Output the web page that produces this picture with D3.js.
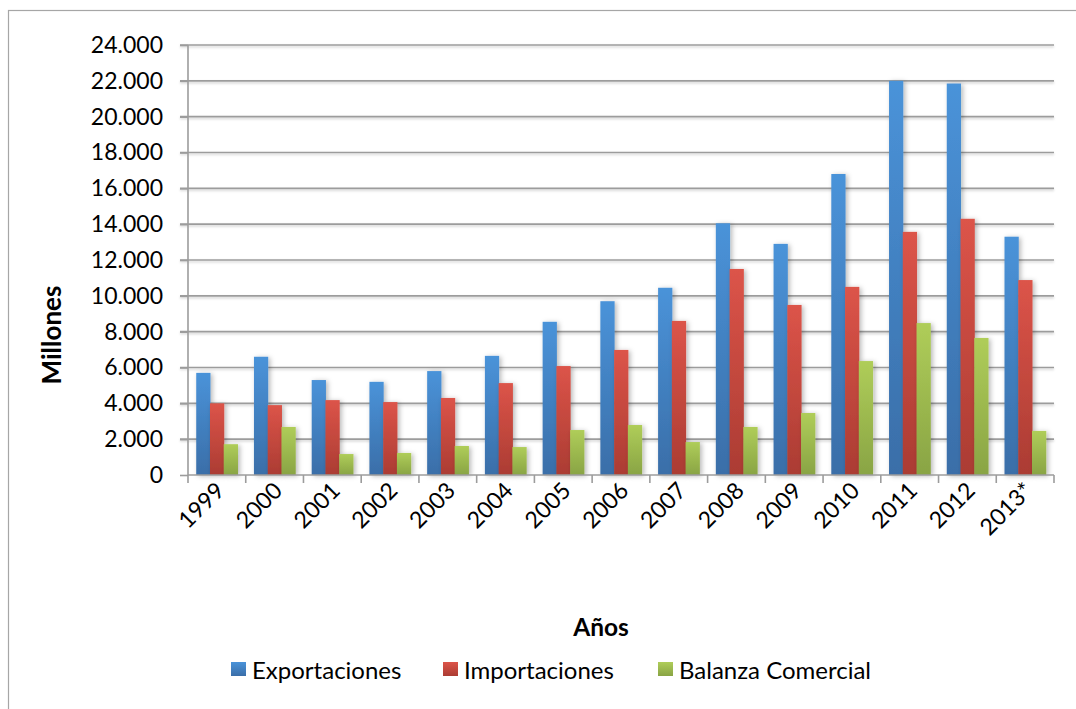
<!DOCTYPE html>
<html><head><meta charset="utf-8">
<script src="https://cdn.jsdelivr.net/npm/d3@7"></script>
<style>body{margin:0;background:#fff;} text{font-family:Lato,"Open Sans",sans-serif;}</style>
</head><body>
<svg id="c" width="1076" height="709"></svg>
<script>
const years = ["1999","2000","2001","2002","2003","2004","2005","2006","2007","2008","2009","2010","2011","2012","2013*"];
const exportaciones = [5700,6600,5300,5200,5800,6650,8550,9700,10450,14050,12900,16800,22000,21850,13300];
const importaciones = [4000,3900,4180,4070,4300,5130,6080,6980,8600,11500,9490,10500,13570,14300,10880];
const balanza = [1720,2680,1170,1230,1620,1560,2510,2790,1840,2680,3460,6360,8480,7650,2460];
const seriesNames = ["Exportaciones","Importaciones","Balanza Comercial"];
const yTicks = [0,2000,4000,6000,8000,10000,12000,14000,16000,18000,20000,22000,24000];

const colors = [["#4a93d9","#3a6ea8"],["#dc5449","#ab3c33"],["#afcd59","#89a444"]];

const svg = d3.select("#c");
const defs = svg.append("defs");
colors.forEach((c,i)=>{
  const g = defs.append("linearGradient").attr("id","g"+i).attr("x1",0).attr("y1",0).attr("x2",0).attr("y2",1);
  g.append("stop").attr("offset","0%").attr("stop-color",c[0]);
  g.append("stop").attr("offset","100%").attr("stop-color",c[1]);
});
const f = defs.append("filter").attr("id","sh").attr("x","-50%").attr("y","-10%").attr("width","200%").attr("height","130%");
f.append("feDropShadow").attr("dx",2).attr("dy",1).attr("stdDeviation",2.5).attr("flood-color","#000").attr("flood-opacity",0.28);
const fg = defs.append("filter").attr("id","gsh").attr("x","-5%").attr("y","-200%").attr("width","110%").attr("height","500%");
fg.append("feDropShadow").attr("dx",0).attr("dy",1.5).attr("stdDeviation",1).attr("flood-color","#000").attr("flood-opacity",0.2);

// frame
svg.append("rect").attr("x",8.5).attr("y",10.5).attr("width",1100).attr("height",720)
  .attr("fill","none").attr("stroke","#a6a6a6").attr("stroke-width",1.2);

const L=188, R=1054, T=45, B=475;
const x = d3.scaleBand().domain(years).range([L,R]).paddingInner(0).paddingOuter(0);
const y = d3.scaleLinear().domain([0,24000]).range([B,T]);
const groupFrac = 0.715;
const xs = d3.scaleBand().domain([0,1,2]).range([0, x.bandwidth()*groupFrac]);
const off = (x.bandwidth()*(1-groupFrac))/2;

// gridlines
const grid = svg.append("g").attr("filter","url(#gsh)");
grid.selectAll("line").data(yTicks.filter(d=>d>0)).enter().append("line")
  .attr("x1",L-8).attr("x2",R).attr("y1",d=>y(d)).attr("y2",d=>y(d))
  .attr("stroke","#9c9c9c").attr("stroke-width",1.6);

// y axis
const ya = svg.append("g").attr("transform",`translate(${L},0)`)
  .call(d3.axisLeft(y).tickValues(yTicks).tickSize(8).tickPadding(17)
    .tickFormat(d=>d===0?"0":d3.format(",")(d).replace(/,/g,".")));
ya.select(".domain").attr("stroke","#9c9c9c").attr("stroke-width",1.6).attr("d",`M0,${T}V${B}`);
ya.selectAll(".tick line").attr("stroke","#9c9c9c").attr("stroke-width",1.6);
ya.selectAll(".tick text").attr("font-size",23).attr("fill","#000").attr("font-family","Lato,'Open Sans',sans-serif");

// bars
const data = [exportaciones, importaciones, balanza];
data.forEach((arr,si)=>{
  svg.append("g").attr("filter","url(#sh)").selectAll("rect").data(arr).enter().append("rect")
    .attr("x",(d,i)=>x(years[i])+off+xs(si))
    .attr("width",xs.bandwidth()+0.5)
    .attr("y",d=>y(d)).attr("height",d=>B-y(d))
    .attr("fill",`url(#g${si})`);
});

// x axis
const xa = svg.append("g").attr("transform",`translate(0,${B})`);
xa.append("line").attr("x1",L).attr("x2",R).attr("stroke","#9c9c9c").attr("stroke-width",1.6);
const bounds = years.map(d=>x(d)).concat([R]);
xa.selectAll("line.t").data(bounds).enter().append("line").attr("class","t")
  .attr("x1",d=>d).attr("x2",d=>d).attr("y1",0).attr("y2",8).attr("stroke","#9c9c9c").attr("stroke-width",1.6);
xa.selectAll("text").data(years).enter().append("text")
  .attr("transform",d=>`translate(${x(d)+x.bandwidth()/2+9},${17}) rotate(-45)`)
  .attr("text-anchor","end").attr("font-size",23).attr("fill","#000").text(d=>d);

// axis titles
svg.append("text").attr("transform","translate(61,335) rotate(-90)").attr("text-anchor","middle")
  .attr("font-size",26).attr("font-weight","bold").text("Millones");
svg.append("text").attr("x",601).attr("y",636).attr("text-anchor","middle")
  .attr("font-size",24.5).attr("font-weight","bold").text("Años");

// legend
const legX = [231,443,658];
seriesNames.forEach((n,i)=>{
  const g = svg.append("g").attr("transform",`translate(${legX[i]},0)`);
  g.append("rect").attr("x",0).attr("y",662).attr("width",15).attr("height",14).attr("fill",`url(#g${i})`);
  g.append("text").attr("x",21).attr("y",679).attr("font-size",24).attr("fill","#000").text(n);
});
</script>
</body></html>
